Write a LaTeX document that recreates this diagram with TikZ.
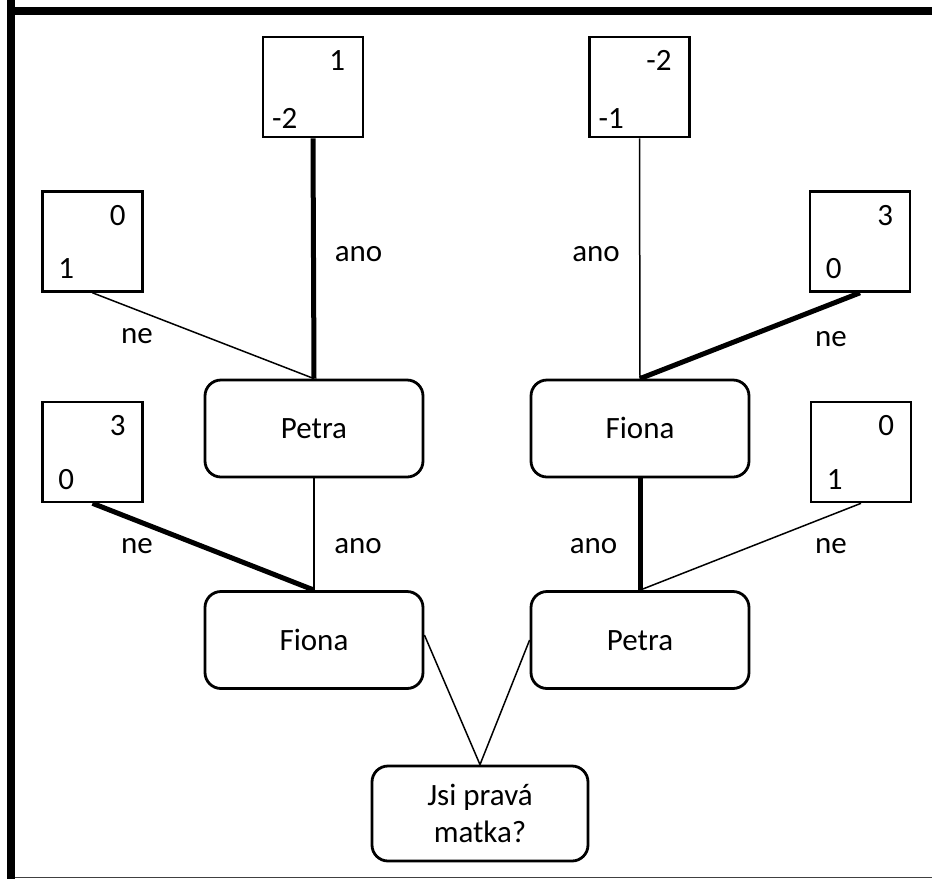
\documentclass[tikz,border=0pt]{standalone}
\usepackage{fontspec}
\setmainfont{Carlito}
\begin{document}
\begin{tikzpicture}[x=1pt,y=-1pt,
  every node/.style={font=\fontsize{31}{37}\selectfont},
  leaf/.style={draw, line width=2.6pt, minimum width=100pt, minimum height=100pt, inner sep=0pt},
  choice/.style={draw, line width=2.8pt, rounded corners=16pt, minimum width=218pt, minimum height=97pt, inner sep=0pt, align=center},
  oneline/.style={text height=20pt, text depth=0pt},
  num/.style={inner sep=0pt},
  lbl/.style={inner sep=0pt, anchor=base},
  thin/.style={line width=1.5pt},
  thick/.style={line width=5pt}
]
\useasboundingbox (0,0) rectangle (932,879);

% outer frame
\draw[line width=8pt] (11,0) -- (11,879);
\draw[line width=8pt] (7,11) -- (932,11);
\draw[line width=1.8pt, black!75] (15,877.5) -- (932,877.5);

% payoff leaves
\node[leaf] (L1) at (313,87) {};
\node[leaf] (L2) at (92.5,241.5) {};
\node[leaf] (L3) at (92.5,452) {};
\node[leaf] (R1) at (639.5,87) {};
\node[leaf] (R2) at (860,241.5) {};
\node[leaf] (R3) at (861,452) {};

% payoff numbers
\node[num, anchor=base east] (L1a) at ([xshift=-19pt,yshift=-35pt]L1.north east) {1};
\node[num, anchor=base] (L1b) at ([xshift=23pt,yshift=10pt]L1.south west) {-2};
\node[num, anchor=base east] (L2a) at ([xshift=-18pt,yshift=-35pt]L2.north east) {0};
\node[num, anchor=base] (L2b) at ([xshift=25pt,yshift=14pt]L2.south west) {1};
\node[num, anchor=base east] (L3a) at ([xshift=-18pt,yshift=-35pt]L3.north east) {3};
\node[num, anchor=base] (L3b) at ([xshift=25pt,yshift=14pt]L3.south west) {0};
\node[num, anchor=base east] (R1a) at ([xshift=-19pt,yshift=-35pt]R1.north east) {-2};
\node[num, anchor=base] (R1b) at ([xshift=23pt,yshift=10pt]R1.south west) {-1};
\node[num, anchor=base east] (R2a) at ([xshift=-18pt,yshift=-35pt]R2.north east) {3};
\node[num, anchor=base] (R2b) at ([xshift=25pt,yshift=14pt]R2.south west) {0};
\node[num, anchor=base east] (R3a) at ([xshift=-18pt,yshift=-35pt]R3.north east) {0};
\node[num, anchor=base] (R3b) at ([xshift=25pt,yshift=14pt]R3.south west) {1};

% decision nodes
\node[choice, oneline] (PT) at (314,428.5) {Petra};
\node[choice, oneline] (FT) at (640,428.5) {Fiona};
\node[choice, oneline] (FB) at (314,640) {Fiona};
\node[choice, oneline] (PB) at (640,640) {Petra};
\node[choice, minimum width=216pt, minimum height=95pt] (Q) at (480,813.5) {Jsi pravá\\matka?};

% branches
\draw[thick] (L1.south) -- (PT.north);
\draw[thin] (L2.south) -- (PT.north);
\draw[thin] (PT.south) -- (FB.north);
\draw[thick] (L3.south) -- (FB.north);
\draw[thin] (R1.south) -- (FT.north);
\draw[thick] (R2.south) -- (FT.north);
\draw[thick] (FT.south) -- (PB.north);
\draw[thin] (R3.south) -- (PB.north);
\draw[thin] ([yshift=5pt]FB.east) -- (Q.north);
\draw[thin] (PB.west) -- (Q.north);

% branch labels
\node[lbl] (t1) at (358.5,261) {ano};
\node[lbl] (t2) at (137,343) {ne};
\node[lbl] (t3) at (596,261) {ano};
\node[lbl] (t4) at (831,346) {ne};
\node[lbl] (t5) at (137,553) {ne};
\node[lbl] (t6) at (358,553) {ano};
\node[lbl] (t7) at (593.5,553) {ano};
\node[lbl] (t8) at (831,553) {ne};
\end{tikzpicture}
\end{document}
